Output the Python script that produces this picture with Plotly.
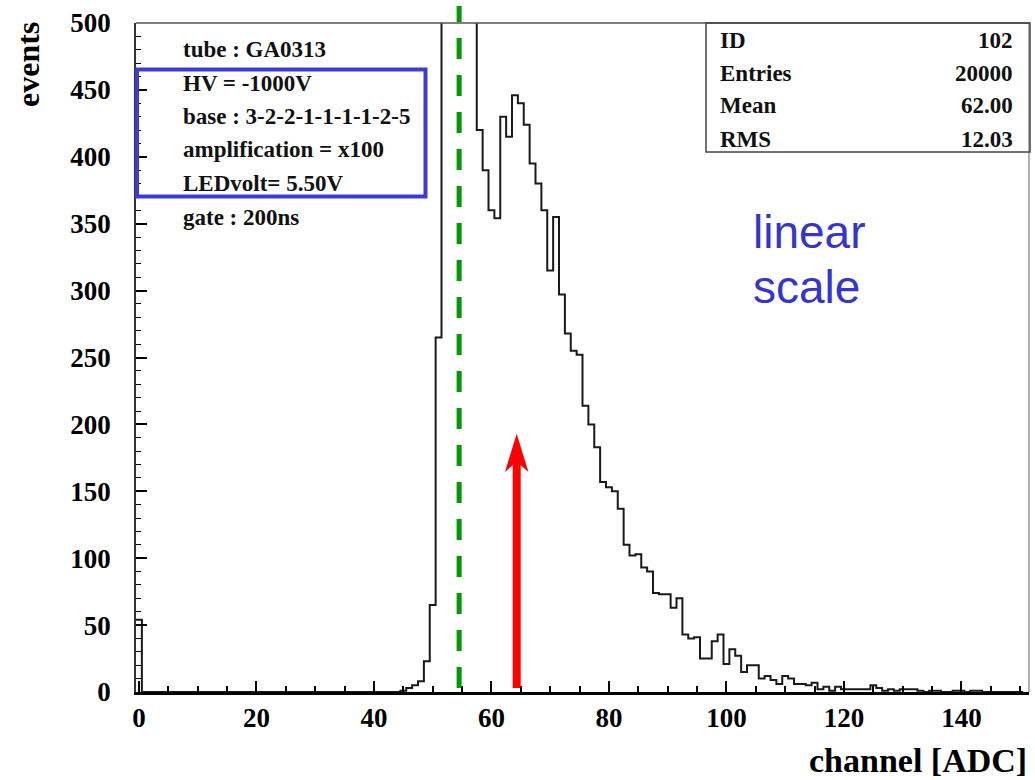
import plotly.graph_objects as go

# ---------------- data ----------------
# histogram: one bin per ADC channel, bin k centred on k
channels = list(range(0, 151))
counts = [54] + [0] * 44 + [
    1, 3, 5, 8, 23, 65, 265,                 # 45-51
    900, 2600, 3100, 2200, 1100, 560,         # 52-57 (off scale, estimated)
    420, 390, 360, 354, 430, 415, 446, 440, 424, 395,   # 58-67
    380, 360, 315, 355, 297, 268, 255, 252, 214, 200,   # 68-77
    183, 157, 153, 150, 137, 110, 102, 103, 93, 90,     # 78-87
    74, 73, 73, 63, 70, 43, 40, 41, 25, 25,             # 88-97
    38, 43, 21, 32, 27, 15, 20, 20, 10, 12,             # 98-107
    9, 6, 12, 10, 6, 6, 5, 7, 2, 4,                     # 108-117
    1, 4, 2, 2, 2, 2, 2, 5, 3, 1,                       # 118-127
    2, 1, 2, 2, 2, 1, 0, 1, 1, 0,                       # 128-137
    0, 1, 1, 0, 1, 1, 0, 0, 0, 0,                       # 138-147
    0, 0, 0,                                            # 148-150
]

x_ticks = [0, 20, 40, 60, 80, 100, 120, 140]
y_ticks = [0, 50, 100, 150, 200, 250, 300, 350, 400, 450, 500]

info_lines = ["tube : GA0313", "HV = -1000V", "base : 3-2-2-1-1-1-1-2-5",
              "amplification = x100", "LEDvolt= 5.50V", "gate : 200ns"]
stats_labels = ["ID", "Entries", "Mean", "RMS"]
stats_values = ["102", "20000", "62.00", "12.03"]

pedestal_x = 54.5      # green dashed line
signal_x = 64.3        # red arrow
arrow_bottom = 3
arrow_tip = 193

# ---------------- figure ----------------
W, H = 1035, 780
L, R, T, B = 136, 6, 23, 88
pw, ph = W - L - R, H - T - B


def px2paper_x(px):
    return (px - L) / pw


def py2paper_y(py):
    return (H - B - py) / ph


edges = [c - 0.5 for c in channels] + [channels[-1] + 0.5]
yvals = counts + [counts[-1]]

fig = go.Figure()
fig.add_trace(go.Scatter(
    x=edges, y=yvals, mode="lines", line_shape="hv",
    line=dict(color="#1a1a1a", width=2), hoverinfo="skip", showlegend=False,
))

serif = "Liberation Serif"
tickfont = dict(family=serif, size=27, color="black", weight="bold")

fig.update_layout(
    width=W, height=H,
    margin=dict(l=L, r=R, t=T, b=B),
    paper_bgcolor="white", plot_bgcolor="white",
    showlegend=False,
    xaxis=dict(
        range=[-0.5, 151.5], tickvals=x_ticks, ticks="inside", ticklen=11,
        tickwidth=1.5, tickcolor="black", showgrid=False, zeroline=False,
        showline=True, linecolor="black", linewidth=2.5,
        tickfont=tickfont, ticklabelstandoff=0,
        minor=dict(dtick=5, tick0=0, ticks="inside", ticklen=6,
                   tickwidth=1.5, tickcolor="black", showgrid=False),
    ),
    yaxis=dict(
        range=[0, 500], tickvals=y_ticks, ticks="inside", ticklen=11,
        tickwidth=1.5, tickcolor="black", showgrid=False, zeroline=False,
        showline=True, linecolor="#333", linewidth=1.5,
        tickfont=tickfont, ticklabelstandoff=18,
        minor=dict(dtick=10, tick0=0, ticks="inside", ticklen=5,
                   tickwidth=1.2, tickcolor="black", showgrid=False),
    ),
)

shapes = []
# frame: top and right
shapes.append(dict(type="line", xref="paper", yref="paper", x0=0, x1=1, y0=1, y1=1,
                   line=dict(color="#555", width=1.5)))
shapes.append(dict(type="line", xref="paper", yref="paper", x0=1, x1=1, y0=0, y1=1,
                   line=dict(color="#999", width=1.5)))
# stats box
shapes.append(dict(type="rect", xref="paper", yref="paper",
                   x0=px2paper_x(706), x1=px2paper_x(1030), y0=py2paper_y(152), y1=1,
                   line=dict(color="#444", width=1.5), fillcolor="rgba(0,0,0,0)"))
# blue info box
shapes.append(dict(type="rect", xref="paper", yref="paper",
                   x0=px2paper_x(137), x1=px2paper_x(425.5), y0=py2paper_y(196.5), y1=py2paper_y(69.5),
                   line=dict(color="#3c3cd2", width=4), fillcolor="rgba(0,0,0,0)"))
# green dashed pedestal line
shapes.append(dict(type="line", xref="x", yref="paper",
                   x0=pedestal_x, x1=pedestal_x, y0=py2paper_y(688), y1=py2paper_y(6),
                   line=dict(color="#009a00", width=5, dash="21px,16px")))
# red arrow (shaft + head)
half_shaft = 0.68
half_head = 2.0
notch_y = arrow_tip - 21
base_y = arrow_tip - 28.5
shapes.append(dict(type="rect", xref="x", yref="y",
                   x0=signal_x - half_shaft, x1=signal_x + half_shaft,
                   y0=arrow_bottom, y1=notch_y + 1,
                   line=dict(width=0), fillcolor="#ff0000"))
shapes.append(dict(type="path", xref="x", yref="y",
                   path=f"M {signal_x},{arrow_tip} L {signal_x - half_head},{base_y} "
                        f"L {signal_x},{notch_y} L {signal_x + half_head},{base_y} Z",
                   line=dict(width=0), fillcolor="#ff0000"))
fig.update_layout(shapes=shapes)

ann = []
# axis titles
ann.append(dict(text="<b>events</b>", xref="paper", yref="paper",
                x=px2paper_x(28), y=py2paper_y(65), textangle=-90,
                xanchor="center", yanchor="middle", showarrow=False,
                font=dict(family=serif, size=32, color="black")))
ann.append(dict(text="<b>channel [ADC]</b>", xref="paper", yref="paper",
                x=px2paper_x(1029), y=py2paper_y(760),
                xanchor="right", yanchor="middle", showarrow=False,
                font=dict(family=serif, size=34, color="black")))
# info text
info_y = [49, 83, 116.5, 150, 183.5, 217]
for t, yy in zip(info_lines, info_y):
    ann.append(dict(text=f"<b>{t}</b>", xref="paper", yref="paper",
                    x=px2paper_x(181), y=py2paper_y(yy),
                    xanchor="left", yanchor="middle", showarrow=False,
                    font=dict(family=serif, size=23, color="#111")))
# stats text
stats_y = [40, 73, 106, 139]
for lab, val, yy in zip(stats_labels, stats_values, stats_y):
    ann.append(dict(text=f"<b>{lab}</b>", xref="paper", yref="paper",
                    x=px2paper_x(718), y=py2paper_y(yy),
                    xanchor="left", yanchor="middle", showarrow=False,
                    font=dict(family=serif, size=23, color="#111")))
    ann.append(dict(text=f"<b>{val}</b>", xref="paper", yref="paper",
                    x=px2paper_x(1015), y=py2paper_y(yy),
                    xanchor="right", yanchor="middle", showarrow=False,
                    font=dict(family=serif, size=23, color="#111")))
# "linear scale"
for t, yy in zip(["linear", "scale"], [232, 287]):
    ann.append(dict(text=t, xref="paper", yref="paper",
                    x=px2paper_x(751), y=py2paper_y(yy),
                    xanchor="left", yanchor="middle", showarrow=False,
                    font=dict(family="Liberation Sans", size=46, color="#3535cc")))
fig.update_layout(annotations=ann)

fig.write_html("out.html", config={"displayModeBar": False},
               post_script="document.body.style.margin='0';document.body.style.overflow='hidden';")
